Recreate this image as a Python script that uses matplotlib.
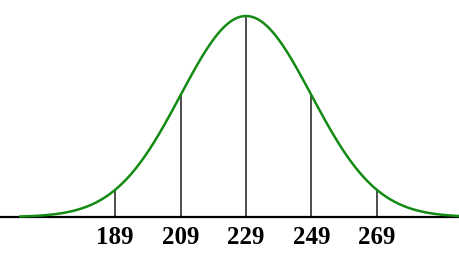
import numpy as np
import matplotlib
matplotlib.use("Agg")
import matplotlib.pyplot as plt

mean = 229
sd = 20
tick_values = [189, 209, 229, 249, 269]
tick_labels = ["189", "209", "229", "249", "269"]
x_range = [160, 296]

W, H = 460, 261
fig = plt.figure(figsize=(W / 100, H / 100), dpi=100)
ax = fig.add_axes([0, 0, 1, 1])
ax.axis("off")

def pdf(x):
    return np.exp(-0.5 * ((x - mean) / sd) ** 2) / (sd * np.sqrt(2 * np.pi))

peak = pdf(mean)
px_per_y = 201 / peak
ax.set_ylim(-44 / px_per_y, peak + 16 / px_per_y)
ax.set_xlim(229 - 246 / 3.27, 229 + (460 - 246) / 3.27)

xs = np.linspace(x_range[0], x_range[1], 400)
ax.plot(xs, pdf(xs), color="#138a13", lw=1.8, zorder=3)
ax.axhline(0, color="black", lw=1.6, zorder=2)
for v, lab in zip(tick_values, tick_labels):
    ax.plot([v, v], [0, pdf(v)], color="#4d4d4d", lw=1.4, zorder=1)
    ax.text(v, -21 / px_per_y, lab, ha="center", va="center",
            fontsize=18, fontweight="bold", family="Liberation Serif")

fig.savefig("out.png", dpi=100)
